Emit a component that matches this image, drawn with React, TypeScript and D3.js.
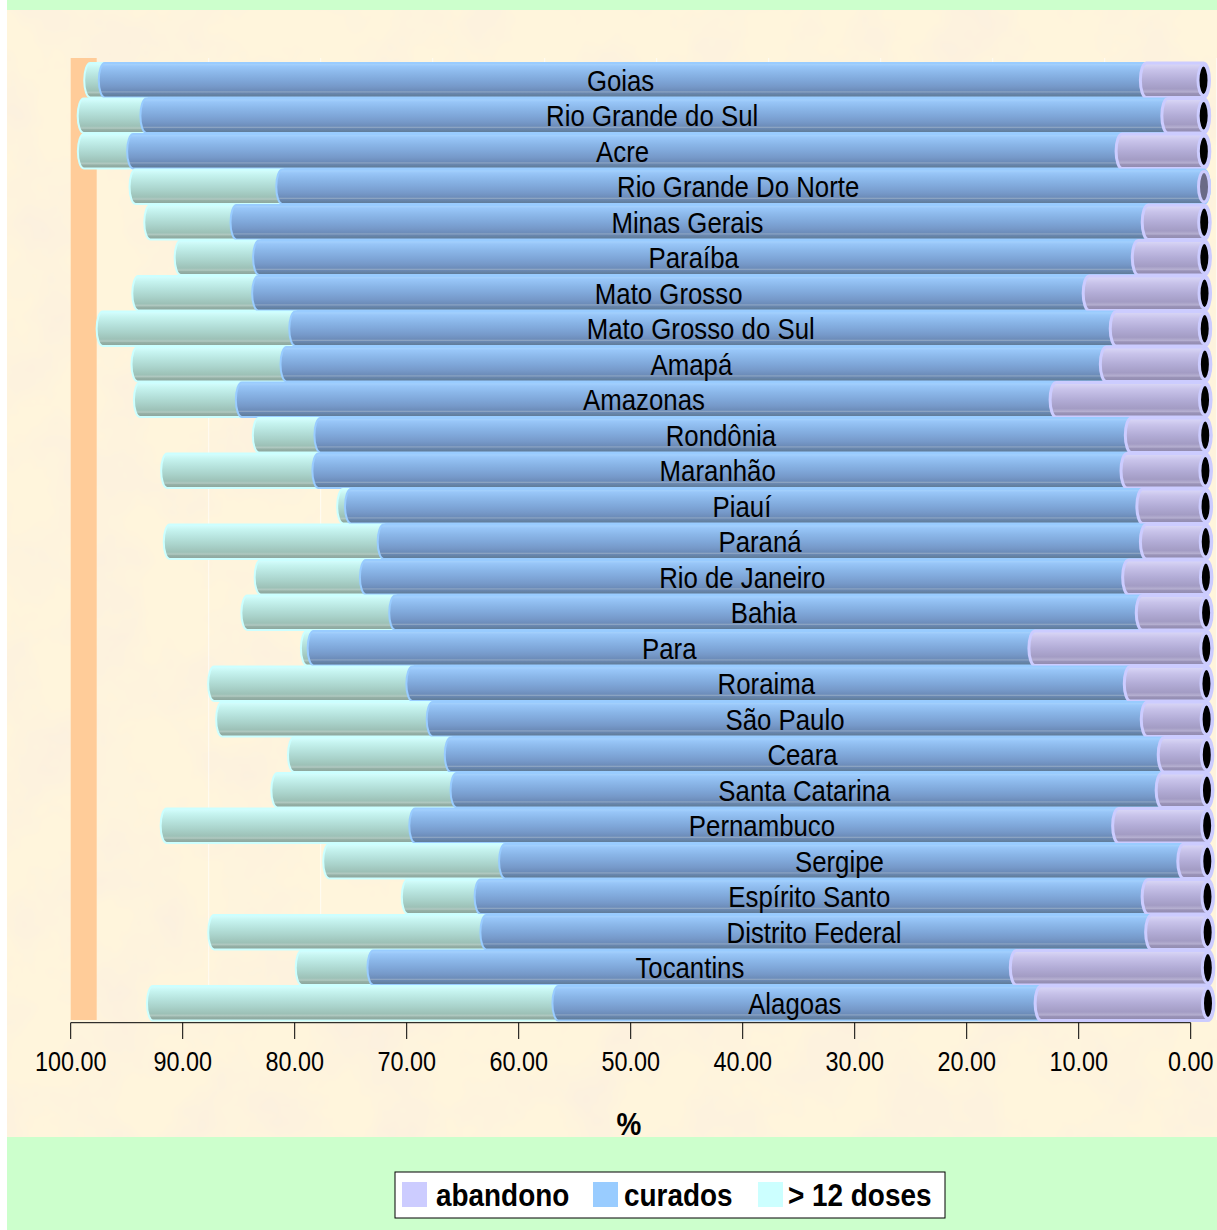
import React from "react";
import * as d3 from "d3";

// Brazilian states, sorted by cure rate
const states = [
  "Goias", "Rio Grande do Sul", "Acre", "Rio Grande Do Norte", "Minas Gerais",
  "Paraíba", "Mato Grosso", "Mato Grosso do Sul", "Amapá", "Amazonas",
  "Rondônia", "Maranhão", "Piauí", "Paraná", "Rio de Janeiro", "Bahia",
  "Para", "Roraima", "São Paulo", "Ceara", "Santa Catarina", "Pernambuco",
  "Sergipe", "Espírito Santo", "Distrito Federal", "Tocantins", "Alagoas",
];

// Percentages per state
const abandono = [5.1, 3.2, 7.3, 0, 5.0, 5.9, 10.3, 7.9, 8.8, 13.3, 6.6, 7.0, 5.6, 5.3, 6.9, 5.7, 15.3, 6.8, 5.3, 3.8, 4.0, 7.9, 2.1, 5.3, 5.0, 17.1, 14.9];
const curados = [93.0, 91.2, 88.3, 82.3, 81.4, 78.5, 74.2, 73.3, 73.2, 72.7, 72.4, 72.2, 70.7, 68.1, 68.1, 66.7, 64.4, 64.1, 63.8, 63.7, 63.0, 62.8, 60.6, 59.6, 59.4, 57.4, 43.1];
const doses12 = [1.3, 5.6, 4.4, 13.1, 7.7, 7.0, 10.7, 17.2, 13.3, 9.1, 5.5, 13.5, 0.7, 19.1, 9.4, 13.2, 0.6, 17.7, 18.8, 14.0, 16.0, 22.2, 15.7, 6.5, 24.3, 6.4, 36.2];

const ticks = [100, 90, 80, 70, 60, 50, 40, 30, 20, 10, 0];
const legendItems = ["abandono", "curados", "> 12 doses"];

const W = 1217;
const H = 1230;
const FONT = "'Liberation Sans', Arial, sans-serif";

const x = d3.scaleLinear().domain([100, 0]).range([70.7, 1190.7]);
const y = d3.scaleBand<string>().domain(states).range([62.5, 1021]).padding(0);

// 3D depth offset of the cylinders (slight perspective from top to bottom)
const depth = (i: number) => 12.8 + (4.5 * i) / (states.length - 1);
const bx = (v: number, i: number) => x(v) + depth(i);
const wallDepth = 26;

const RX = 6;

function cylinder(L: number, R: number, y0: number, y1: number) {
  const ry = (y1 - y0) / 2;
  return `M${R},${y0} L${L},${y0} A${RX},${ry} 0 0 0 ${L},${y1} L${R},${y1} A${RX},${ry} 0 0 0 ${R},${y0} Z`;
}

const gradients: { id: string; stops: [number, string][] }[] = [
  {
    id: "g-cur",
    stops: [
      [0, "#AAD6FF"], [0.1, "#98C6F8"], [0.3, "#8AB6E8"], [0.5, "#7FA7D9"],
      [0.68, "#7699C9"], [0.8, "#6D8DBA"], [0.84, "#8CA4C2"], [0.87, "#6A88B1"],
      [0.94, "#63809F"], [1, "#5D7896"],
    ],
  },
  {
    id: "g-dos",
    stops: [
      [0, "#D6FFFF"], [0.15, "#C6F4F0"], [0.4, "#B5E1DB"], [0.6, "#A9D2CA"],
      [0.8, "#9DC1B7"], [0.86, "#B0C8C0"], [0.9, "#95B0A6"], [1, "#8BA49B"],
    ],
  },
  {
    id: "g-aba",
    stops: [
      [0, "#DCDAF8"], [0.2, "#C8C3EA"], [0.5, "#B2ACD6"], [0.75, "#A39CC4"],
      [0.84, "#B5AFD0"], [0.88, "#9A93B8"], [1, "#8F89AC"],
    ],
  },
];

// Text squeezed horizontally to a narrow face
function NarrowText(props: {
  x: number; y: number; size: number; sx: number; anchor?: string; bold?: boolean; children: React.ReactNode;
}) {
  return (
    <g transform={`translate(${props.x},${props.y}) scale(${props.sx},1)`}>
      <text
        x={0}
        y={0}
        textAnchor={props.anchor || "middle"}
        fontFamily={FONT}
        fontWeight={props.bold ? "bold" : "normal"}
        fontSize={props.size}
        fill="#000"
      >
        {props.children}
      </text>
    </g>
  );
}

export default function App() {
  const bw = y.bandwidth();
  const fmt = d3.format(".2f");

  const rows = states.map((s, i) => {
    const yb = y(s)!;
    const y0 = yb + 0.5;
    const y1 = yb + bw - 0.5;
    const a = abandono[i];
    const c = curados[i];
    const d = doses12[i];
    const c0 = bx(0, i);
    const c1 = bx(a, i);
    const c2 = bx(a + c, i);
    const c3 = bx(a + c + d, i);
    return { s, i, y0, y1, yc: yb + bw / 2, a, c0, c1, c2, c3 };
  });

  return (
    <svg
      width={W}
      height={H}
      style={{ position: "absolute", left: 0, top: 0, display: "block" }}
      xmlns="http://www.w3.org/2000/svg"
    >
      <defs>
        {gradients.map((g) => (
          <linearGradient key={g.id} id={g.id} x1="0" y1="0" x2="0" y2="1">
            {g.stops.map(([o, col], k) => (
              <stop key={k} offset={o} stopColor={col} />
            ))}
          </linearGradient>
        ))}
        <filter id="parch" filterUnits="userSpaceOnUse" x="0" y="0" width={W} height={H}>
          <feTurbulence type="fractalNoise" baseFrequency="0.014" numOctaves="4" seed="7" />
          <feColorMatrix
            type="matrix"
            values="0 0 0 0 0.97  0 0 0 0 0.87  0 0 0 0 0.74  0 0 0 1.9 -0.72"
          />
        </filter>
        <clipPath id="parchClip">
          <rect x={7} y={10} width={W - 7} height={1127} />
        </clipPath>
      </defs>

      {/* page background */}
      <rect x={0} y={0} width={W} height={H} fill="#FFFFFF" />
      <rect x={7} y={0} width={W - 7} height={10} fill="#CCFFCC" />
      <rect x={7} y={10} width={W - 7} height={1127} fill="#FFF5DC" />
      <g clipPath="url(#parchClip)">
        <rect x={7} y={10} width={W - 7} height={1127} filter="url(#parch)" />
      </g>
      <rect x={7} y={1137} width={W - 7} height={H - 1137} fill="#CCFFCC" />

      {/* side wall and back-wall gridlines */}
      {ticks.slice(1).map((t) => (
        <line
          key={t}
          x1={x(t) + wallDepth}
          x2={x(t) + wallDepth}
          y1={58}
          y2={1020}
          stroke="#FFFFFF"
          strokeOpacity={0.7}
          strokeWidth={1}
        />
      ))}
      <rect x={x(100)} y={58} width={wallDepth} height={1020 - 58} fill="#FFCC99" />

      {/* cylinders */}
      {rows.map((r) => (
        <g key={r.s}>
          {r.c3 < r.c2 - 0.5 && (
            <path d={cylinder(r.c3, r.c2, r.y0, r.y1)} fill="url(#g-dos)" stroke="#CCFFFF" strokeWidth={2} />
          )}
          <path d={cylinder(r.c2, r.c1, r.y0, r.y1)} fill="url(#g-cur)" stroke="#99CCFF" strokeWidth={2} />
          {r.a > 0 && (
            <path d={cylinder(r.c1, r.c0, r.y0, r.y1)} fill="url(#g-aba)" stroke="#CCCCFF" strokeWidth={3} />
          )}
          <ellipse
            cx={r.c0}
            cy={r.yc}
            rx={RX - 0.5}
            ry={bw / 2 - 2.5}
            fill={r.a > 0 ? "#000000" : "#6A6A86"}
            stroke="#CCCCFF"
            strokeWidth={3}
          />
        </g>
      ))}

      {/* category labels on the curados segment */}
      {rows.map((r) => (
        <NarrowText key={"l" + r.s} x={(r.c1 + r.c2) / 2 - 5} y={r.yc + 10.5} size={30} sx={0.86}>
          {r.s}
        </NarrowText>
      ))}

      {/* x axis */}
      <line x1={x(100)} x2={x(0)} y1={1022.7} y2={1022.7} stroke="#000" strokeWidth={1} />
      {ticks.map((t) => (
        <g key={"t" + t}>
          <line x1={x(t)} x2={x(t)} y1={1022.7} y2={1039} stroke="#000" strokeWidth={1} />
          <NarrowText x={x(t)} y={1070.5} size={27} sx={0.866}>
            {fmt(t)}
          </NarrowText>
        </g>
      ))}
      <NarrowText x={629} y={1135} size={31} sx={0.9} bold>
        %
      </NarrowText>

      {/* legend */}
      <rect x={395} y={1172} width={550} height={46} fill="#FFFFFF" stroke="#000" strokeWidth={1} />
      {legendItems.map((name, k) => {
        const sx = [402, 593, 758][k];
        const tx = [436, 624, 788][k];
        const col = ["#CCCCFF", "#99CCFF", "#CCFFFF"][k];
        return (
          <g key={name}>
            <rect x={sx} y={1182} width={25} height={25} fill={col} />
            <NarrowText x={tx} y={1206} size={31} sx={0.9} anchor="start" bold>
              {name}
            </NarrowText>
          </g>
        );
      })}
    </svg>
  );
}
